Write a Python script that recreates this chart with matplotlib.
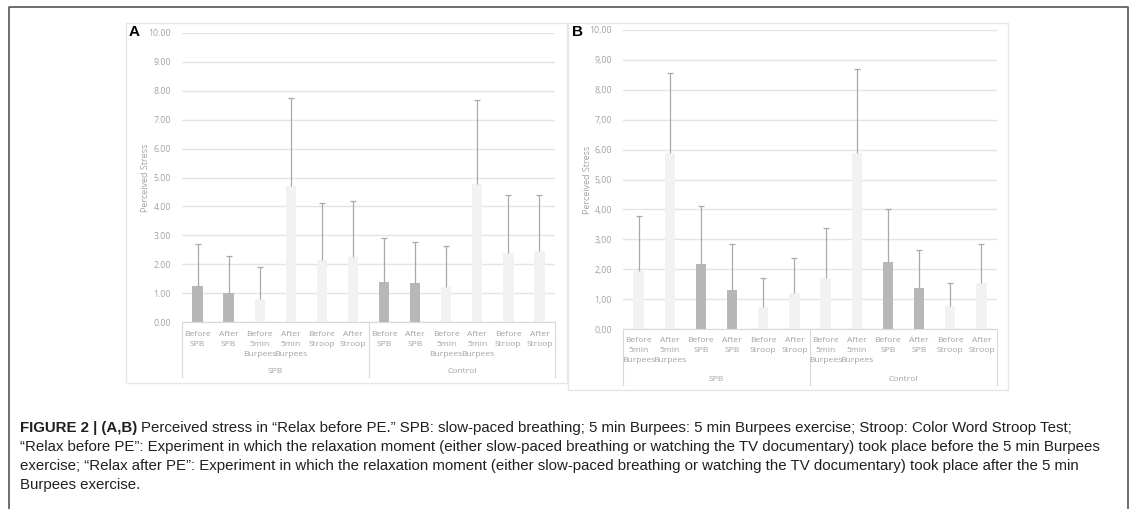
import numpy as np
import matplotlib
matplotlib.use("Agg")
import matplotlib.pyplot as plt
from matplotlib.patches import Rectangle
from matplotlib.lines import Line2D

# ---- data ----
labels_a = ["Before\nSPB", "After\nSPB", "Before\n5min\nBurpees", "After\n5min\nBurpees",
            "Before\nStroop", "After\nStroop"]
labels_b = ["Before\n5min\nBurpees", "After\n5min\nBurpees", "Before\nSPB", "After\nSPB",
            "Before\nStroop", "After\nStroop"]
groups = ["SPB", "Control"]

mean_a = [1.25, 1.02, 0.81, 4.72, 2.15, 2.26, 1.40, 1.34, 1.21, 4.77, 2.38, 2.46]
sd_a = [1.44, 1.27, 1.08, 3.02, 1.96, 1.93, 1.49, 1.42, 1.42, 2.92, 2.00, 1.93]
dark_a = [1, 1, 0, 0, 0, 0, 1, 1, 0, 0, 0, 0]

mean_b = [1.93, 5.88, 2.19, 1.31, 0.75, 1.21, 1.71, 5.88, 2.23, 1.38, 0.78, 1.55]
sd_b = [1.86, 2.67, 1.93, 1.53, 0.95, 1.16, 1.66, 2.81, 1.78, 1.27, 0.77, 1.29]
dark_b = [0, 0, 1, 1, 0, 0, 0, 0, 1, 1, 0, 0]

W, H = 1131, 509
fig = plt.figure(figsize=(W / 100, H / 100), dpi=100)

GRID = "#e4e4e4"
TXT = "#a3a3a3"
DARK = "#b7b7b7"
LIGHT = "#f2f2f2"
ERR = "#a9a9a9"
FONT = ["Open Sans", "DejaVu Sans"]


def fx(px):
    return px / W


def fy(py):
    return 1 - py / H


# outer frame (left, top, right)
fig.add_artist(Line2D([fx(9), fx(9), fx(1128), fx(1128)], [0, fy(7), fy(7), 0],
                      color="#555555", lw=1.2))


def panel(box, ax_px, means, sds, dark, labels, sep, letter, letter_xy, ylab_x,
          tick_y, group_y):
    x0, y0, x1, y1 = box
    fig.add_artist(Rectangle((fx(x0), fy(y1)), fx(x1 - x0), (y1 - y0) / H,
                             fill=False, edgecolor="#e6e6e6", lw=1.0))
    l, t, r, b = ax_px
    ax = fig.add_axes([fx(l), fy(b), fx(r - l), (b - t) / H])
    n = len(means)
    x = np.arange(n)
    cols = [DARK if d else LIGHT for d in dark]
    ax.bar(x, means, width=0.33, color=cols, zorder=2)
    tops = np.array(means) + np.array(sds)
    ax.vlines(x, means, tops, color=ERR, lw=0.9, zorder=3)
    ax.plot(x, tops, ls="none", marker="_", ms=4, mew=0.9, color=ERR, zorder=3)
    ax.set_xlim(-0.5, n - 0.5)
    ax.set_ylim(0, 10)
    ax.set_yticks(np.arange(0, 11, 1))
    ax.set_yticklabels([("%.2f" % v).replace(".", sep) for v in range(11)],
                       fontsize=6.3, color=TXT, family=FONT)
    ax.tick_params(axis="y", length=0, pad=8)
    ax.tick_params(axis="x", length=0)
    ax.set_xticks([])
    ax.grid(axis="y", color=GRID, lw=1.0, zorder=0)
    for s in ["top", "right", "left"]:
        ax.spines[s].set_visible(False)
    ax.spines["bottom"].set_color("#d9d9d9")
    ax.set_facecolor("none")

    # category labels
    for i in range(n):
        ax.text(i, tick_y, labels[i % 6], transform=ax.get_xaxis_transform(),
                ha="center", va="top", fontsize=6.1, color=TXT, family=FONT,
                linespacing=1.6)
    for j, g in enumerate(groups):
        ax.text(j * 6 + 2.5, group_y, g, transform=ax.get_xaxis_transform(),
                ha="center", va="center", fontsize=6.1, color=TXT, family=FONT)
    for xs in [-0.5, 5.5, 11.5]:
        ax.plot([xs, xs], [0, group_y - 0.02], transform=ax.get_xaxis_transform(),
                color="#d9d9d9", lw=0.8, clip_on=False)

    fig.text(fx(ylab_x), (fy(t) + fy(b)) / 2, "Perceived Stress", rotation=90,
             ha="center", va="center", fontsize=6.5, color=TXT, family=FONT)
    fig.text(fx(letter_xy[0]), fy(letter_xy[1]), letter, ha="left", va="center",
             fontsize=11, fontweight="bold", family=["Liberation Sans", "DejaVu Sans"])
    return ax


panel((126, 23, 567, 383), (182, 33, 555, 322), mean_a, sd_a, dark_a, labels_a, ".",
      "A", (129, 32), 145, -0.03, -0.17)
panel((568, 23, 1008, 390), (623, 30, 997, 329), mean_b, sd_b, dark_b, labels_b, ",",
      "B", (572, 32), 587, -0.028, -0.168)

# caption
cap_font = ["Liberation Sans", "DejaVu Sans"]
cs = 10.8
bold_part = "FIGURE 2 | (A,B)"
t0 = fig.text(fx(20), fy(428), bold_part, ha="left", va="center", fontsize=cs,
              fontweight="bold", family=cap_font, color="#231f20")
fig.canvas.draw()
ext = t0.get_window_extent(renderer=fig.canvas.get_renderer())
fig.text(ext.x1 / W + fx(4), fy(428),
         "Perceived stress in \u201cRelax before PE.\u201d SPB: slow-paced breathing; 5 min Burpees: "
         "5 min Burpees exercise; Stroop: Color Word Stroop Test;",
         ha="left", va="center", fontsize=cs, family=cap_font, color="#231f20")
cap_lines = [
    "\u201cRelax before PE\u201d: Experiment in which the relaxation moment (either slow-paced "
    "breathing or watching the TV documentary) took place before the 5 min Burpees",
    "exercise; \u201cRelax after PE\u201d: Experiment in which the relaxation moment (either "
    "slow-paced breathing or watching the TV documentary) took place after the 5 min",
    "Burpees exercise.",
]
for k, line in enumerate(cap_lines):
    fig.text(fx(20), fy(447 + 19 * k), line, ha="left", va="center", fontsize=cs,
             family=cap_font, color="#231f20")

fig.savefig("out.png", dpi=100)
